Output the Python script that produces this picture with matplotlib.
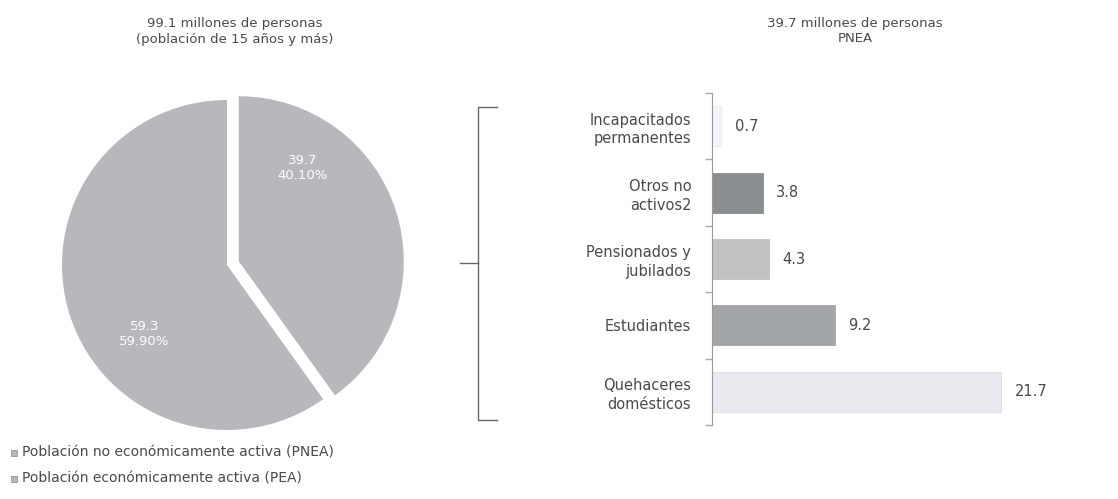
import numpy as np
from matplotlib import pyplot as plt
from matplotlib.patches import Rectangle

# pie data (millions)
pie_labels = ["Población no económicamente activa (PNEA)", "Población económicamente activa (PEA)"]
pie_values = [39.7, 59.3]
pie_pcts = ["40.10%", "59.90%"]

# bar data (millions), bottom to top
bar_cats = ["Quehaceres\ndomésticos", "Estudiantes", "Pensionados y\njubilados", "Otros no\nactivos2", "Incapacitados\npermanentes"]
bar_values = [21.7, 9.2, 4.3, 3.8, 0.7]
bar_colors = ["#e9e9ef", "#a3a6a9", "#bfc1c3", "#8b8e90", "#f4f4fa"]
bar_edges = ["#dcdce2", "#a3a6a9", "#bfc1c3", "#8b8e90", "#e8e8ee"]

txt = "#4a4a4a"
W, H = 1118, 499
fig = plt.figure(figsize=(W / 100, H / 100), dpi=100)
plt.rcParams['font.family'] = ['DejaVu Sans']

# pie
R = 165
cx, cy = 227, 265
side = 2.2 * R
ax1 = fig.add_axes([(cx - side / 2) / W, (H - cy - side / 2) / H, side / W, side / H])
wedges, _ = ax1.pie(pie_values, startangle=90, counterclock=False, explode=[0.075, 0],
                    colors=["#b6b8bc", "#b6b8bc"], wedgeprops=dict(linewidth=0))
ax1.set_xlim(-1.1, 1.1)
ax1.set_ylim(-1.1, 1.1)
ax1.set_aspect('equal')
ax1.axis('off')
ax1.text(0.46, 0.59, f"{pie_values[0]}\n{pie_pcts[0]}", color="white", ha="center", va="center", fontsize=9.5, linespacing=1.2)
ax1.text(-0.50, -0.42, f"{pie_values[1]}\n{pie_pcts[1]}", color="white", ha="center", va="center", fontsize=9.5, linespacing=1.2)

fig.text(235 / W, 1 - 31 / H, "99.1 millones de personas\n(población de 15 años y más)", ha="center", va="center",
         fontsize=9.5, color=txt, linespacing=1.3)
fig.text(855 / W, 1 - 31 / H, "39.7 millones de personas\nPNEA", ha="center", va="center",
         fontsize=9.5, color=txt, linespacing=1.3)

# legend
for i, lab in enumerate(pie_labels):
    y = 1 - (453 + 26 * i) / H
    fig.patches.append(Rectangle((11 / W, y - 3 / H), 6 / W, 6 / H, transform=fig.transFigure,
                                 facecolor="#b6b8bc", edgecolor="#888888", linewidth=0.5))
    fig.text(22 / W, y, lab, ha="left", va="center", fontsize=10, color=txt)

# brace
bx, btop, bbot, bmid = 478, 107, 420, 263
fig.add_artist(plt.Line2D(np.array([497, bx, bx, 497]) / W, 1 - np.array([btop, btop, bbot, bbot]) / H,
                          color="#666666", linewidth=1))
fig.add_artist(plt.Line2D(np.array([460, bx]) / W, 1 - np.array([bmid, bmid]) / H,
                          color="#666666", linewidth=1))

# bars
ax2 = fig.add_axes([712 / W, 1 - 425 / H, 400 / W, 332 / H])
y = np.arange(len(bar_cats))
ax2.barh(y, bar_values, height=0.6, color=bar_colors, edgecolor=bar_edges, linewidth=0.6)
for yi, v in zip(y, bar_values):
    ax2.text(v + 1.0, yi, f"{v}", va="center", ha="left", fontsize=10.5, color=txt)
ax2.set_xlim(0, 30)
ax2.set_ylim(-0.5, 4.5)
ax2.set_yticks(y)
ax2.set_yticklabels(bar_cats, fontsize=10.5, color=txt, linespacing=1.3)
ax2.set_yticks(np.arange(-0.5, 4.6, 1), minor=True)
ax2.tick_params(axis='y', which='major', length=0, pad=15)
ax2.tick_params(axis='y', which='minor', length=5, color="#aaaaaa", width=1)
ax2.set_xticks([])
for s in ["top", "right", "bottom"]:
    ax2.spines[s].set_visible(False)
ax2.spines["left"].set_color("#999999")

fig.savefig("out.png", dpi=100)
